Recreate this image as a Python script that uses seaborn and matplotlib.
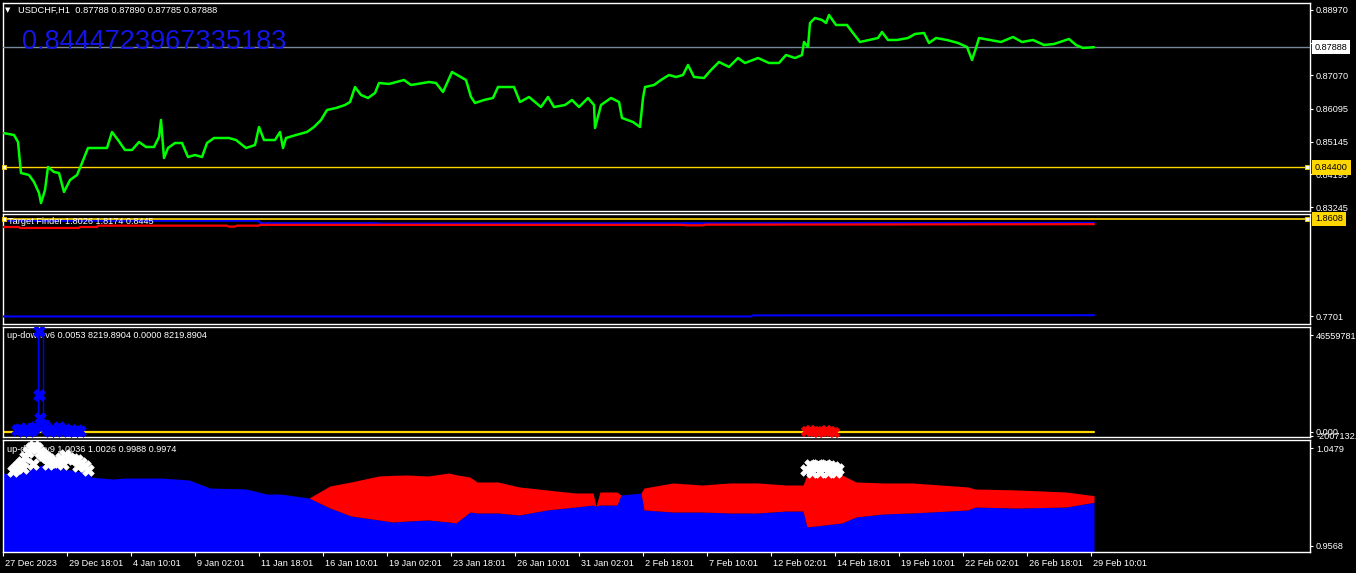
import matplotlib
matplotlib.use("Agg")
import matplotlib.pyplot as plt
import matplotlib.transforms as mtransforms
import seaborn as sns

# ---- price window (USDCHF H1, x = bar index, one bar per hour) ----
price_bars = [0, 11, 15, 17, 18, 26, 31, 36, 38, 42,
              45, 51, 56, 61, 67, 74, 79, 85, 90, 104,
              109, 115, 122, 129, 136, 143, 151, 156, 158, 161,
              165, 172, 179, 185, 192, 199, 204, 211, 226, 233,
              243, 252, 256, 261, 272, 277, 280, 283, 293, 304,
              311, 318, 324, 333, 342, 347, 352, 358, 365, 372,
              376, 386, 401, 408, 426, 433, 440, 449, 463, 468,
              472, 481, 490, 495, 511, 517, 526, 538, 545, 551,
              562, 569, 576, 585, 591, 592, 598, 608, 616, 619,
              630, 637, 640, 642, 651, 658, 666, 673, 680, 685,
              691, 701, 708, 716, 726, 735, 742, 755, 766, 776,
              783, 792, 799, 801, 805, 807, 812, 819, 823, 826,
              833, 844, 850, 857, 866, 875, 879, 885, 894, 905,
              912, 921, 926, 933, 944, 955, 964, 969, 973, 976,
              987, 998, 1010, 1019, 1030, 1041, 1051, 1066, 1073, 1080,
              1091]
price_vals = [0.85396, 0.85337, 0.85134, 0.84553, 0.84233, 0.84175, 0.83972, 0.83652, 0.83361, 0.83739,
              0.84408, 0.84262, 0.84233, 0.83681, 0.84030, 0.84175, 0.84524, 0.84960, 0.84960, 0.84960,
              0.85425, 0.85192, 0.84902, 0.84902, 0.85134, 0.84989, 0.84989, 0.85279, 0.85773, 0.84669,
              0.84960, 0.85105, 0.85105, 0.84698, 0.84756, 0.84698, 0.85105, 0.85250, 0.85250, 0.85192,
              0.84960, 0.85047, 0.85570, 0.85192, 0.85192, 0.85425, 0.84960, 0.85250, 0.85337, 0.85425,
              0.85570, 0.85773, 0.86064, 0.86122, 0.86209, 0.86296, 0.86732, 0.86500, 0.86413, 0.86558,
              0.86849, 0.86820, 0.86936, 0.86790, 0.86878, 0.86849, 0.86587, 0.87168, 0.86936, 0.86442,
              0.86267, 0.86355, 0.86413, 0.86732, 0.86732, 0.86296, 0.86442, 0.86151, 0.86442, 0.86151,
              0.86209, 0.86355, 0.86151, 0.86413, 0.86209, 0.85541, 0.86209, 0.86413, 0.86296, 0.85832,
              0.85715, 0.85570, 0.86413, 0.86732, 0.86790, 0.86936, 0.87081, 0.87023, 0.87081, 0.87372,
              0.87023, 0.86994, 0.87226, 0.87459, 0.87314, 0.87575, 0.87430, 0.87575, 0.87430, 0.87430,
              0.87662, 0.87575, 0.87662, 0.88040, 0.87895, 0.88592, 0.88738, 0.88679, 0.88592, 0.88825,
              0.88534, 0.88534, 0.88302, 0.88040, 0.88098, 0.88156, 0.88331, 0.88098, 0.88098, 0.88156,
              0.88273, 0.88302, 0.88011, 0.88156, 0.88098, 0.88011, 0.87895, 0.87517, 0.87866, 0.88156,
              0.88098, 0.88040, 0.88185, 0.88040, 0.88098, 0.87953, 0.87982, 0.88127, 0.87953, 0.87866,
              0.87888]
price_ticks = [0.88970, 0.88020, 0.87070, 0.86095, 0.85145, 0.84195, 0.83245]
bid_price = 0.87888
level_price = 0.84400
header_main = "USDCHF,H1  0.87788 0.87890 0.87785 0.87888"
big_value = "0.8444723967335183"

# ---- Target Finder window ----
tf_red_bars = [0, 16, 17, 76, 77, 94, 95, 224, 226, 232, 234, 256, 257, 680, 683, 700, 703, 1091]
tf_red_vals = [1.771, 1.771, 1.760, 1.760, 1.771, 1.771, 1.786, 1.786, 1.775, 1.775, 1.786, 1.786,
               1.795, 1.795, 1.790, 1.790, 1.797, 1.8026]
tf_blue_bars = [0, 255, 258, 375, 378, 1091]
tf_blue_vals = [1.841, 1.841, 1.813, 1.813, 1.808, 1.8174]
tf_low_bars = [0, 748, 750, 1091]
tf_low_vals = [0.765, 0.765, 0.777, 0.779]
tf_level = 1.8608
tf_min = 0.7701
header_tf = "Target Finder 1.8026 1.8174 0.8445"

# ---- up-down-v6 window ----
ud6_blue_bars = [14, 17, 20, 23, 26, 29, 32, 36, 36, 37, 41, 44, 47, 50, 53, 56, 59, 62, 65, 68, 71, 74, 77]
ud6_blue_vals = [0.6e6, 1.2e6, 0.2e6, 1.6e6, 0.4e6, 1.0e6, 2.4e6, 48.5e6, 17.7e6, 6.6e6, 3.2e6, 1.4e6,
                 0.3e6, 1.1e6, 0.2e6, 2.2e6, 0.6e6, 1.3e6, 0.4e6, 1.0e6, 0.2e6, 0.8e6, 0.3e6]
ud6_spike_bars = [35, 40]
ud6_spike_tops = [48.5e6, 48.5e6]
ud6_red_bars = [803, 807, 811, 815, 819, 823, 827, 831]
ud6_red_vals = [0.2e6, 0.9e6, 0.4e6, -0.3e6, 0.5e6, 1.0e6, 0.3e6, 0.0]
ud6_level = 0.0
ud6_ticks = [46559781.4, 0.0, -2007132.4]
ud6_tick_labels = ["46559781.4", "0.000", "-2007132.4"]
header_ud6 = "up-down-v6 0.0053 8219.8904 0.0000 8219.8904"

# ---- up-down-v9 window ----
ud9_bars = [0, 11, 39, 85, 88, 109, 123, 158, 186, 207,
            243, 264, 278, 306, 327, 348, 376, 390, 404, 425,
            446, 453, 467, 474, 495, 516, 544, 572, 590, 593,
            597, 614, 618, 638, 641, 670, 699, 727, 755, 783,
            800, 804, 839, 853, 881, 909, 965, 972, 1014, 1063,
            1091]
ud9_upper = [1.0247, 1.0228, 1.0321, 1.0247, 1.0209, 1.0191, 1.0200, 1.0200, 1.0182, 1.0107,
             1.0098, 1.0051, 1.0051, 1.0014, 1.0126, 1.0163, 1.0219, 1.0225, 1.0228, 1.0219,
             1.0247, 1.0230, 1.0209, 1.0163, 1.0163, 1.0117, 1.0089, 1.0061, 1.0061, 0.9940,
             1.0070, 1.0070, 1.0042, 1.0060, 1.0107, 1.0154, 1.0135, 1.0154, 1.0154, 1.0135,
             1.0135, 1.0228, 1.0228, 1.0163, 1.0154, 1.0154, 1.0117, 1.0098, 1.0089, 1.0070,
             1.0036]
ud9_lower = [1.0247, 1.0228, 1.0321, 1.0247, 1.0209, 1.0191, 1.0200, 1.0200, 1.0182, 1.0107,
             1.0098, 1.0051, 1.0051, 1.0014, 0.9921, 0.9847, 0.9810, 0.9791, 0.9800, 0.9810,
             0.9791, 0.9782, 0.9884, 0.9875, 0.9875, 0.9856, 0.9903, 0.9930, 0.9949, 0.9940,
             0.9949, 0.9949, 1.0042, 1.0060, 0.9903, 0.9884, 0.9884, 0.9875, 0.9875, 0.9893,
             0.9893, 0.9745, 0.9782, 0.9838, 0.9866, 0.9875, 0.9903, 0.9930, 0.9921, 0.9930,
             0.9974]
ud9_white_bars = [10, 13, 16, 19, 22, 25, 28, 31, 34, 37, 40, 43, 46, 50, 54, 58, 62, 66, 70, 74, 78, 82, 85,
                  20, 30, 45, 60, 75,
                  803, 807, 811, 815, 819, 823, 827, 831, 835, 809, 817, 825, 833]
ud9_white_vals = [1.0265, 1.0290, 1.0320, 1.0350, 1.0400, 1.0440, 1.0475, 1.0500, 1.0480, 1.0440, 1.0410,
                  1.0400, 1.0380, 1.0350, 1.0345, 1.0390, 1.0410, 1.0390, 1.0375, 1.0365, 1.0340, 1.0310, 1.0270,
                  1.0290, 1.0330, 1.0330, 1.0330, 1.0310,
                  1.0275, 1.0320, 1.0310, 1.0320, 1.0315, 1.0320, 1.0315, 1.0305, 1.0280, 1.0260, 1.0255,
                  1.0260, 1.0255]
ud9_ticks = [1.0479, 0.9568]
header_ud9 = "up-down-v9 1.0036 1.0026 0.9988 0.9974"

time_ticks = list(range(0, 1089, 64))
time_labels = ["27 Dec 2023", "29 Dec 18:01", "4 Jan 10:01", "9 Jan 02:01", "11 Jan 18:01",
               "16 Jan 10:01", "19 Jan 02:01", "23 Jan 18:01", "26 Jan 10:01", "31 Jan 02:01",
               "2 Feb 18:01", "7 Feb 10:01", "12 Feb 02:01", "14 Feb 18:01", "19 Feb 10:01",
               "22 Feb 02:01", "26 Feb 18:01", "29 Feb 10:01"]

GREEN = "#00FF00"
BLUE = "#0000FF"
RED = "#FF0000"
GOLD = "#FFD700"
FS = 6.6

sns.set_theme(style="dark", rc={"axes.facecolor": "black", "figure.facecolor": "black",
                                "text.color": "white", "xtick.color": "white", "ytick.color": "white",
                                "axes.edgecolor": "white"})
plt.rcParams["font.family"] = ["Liberation Sans", "DejaVu Sans"]

W, H = 1356, 573
fig = plt.figure(figsize=(W / 100, H / 100), dpi=100)


def panel(top, bottom):
    ax = fig.add_axes([3 / W, 1 - bottom / H, 1307 / W, (bottom - top) / H])
    ax.set_facecolor("black")
    for s in ax.spines.values():
        s.set_color("white")
        s.set_linewidth(1)
    ax.set_xlim(0, 1307)
    ax.yaxis.tick_right()
    ax.tick_params(axis="y", which="both", right=True, left=False, labelright=True, labelleft=False,
                   length=2.2, width=0.8, pad=2.2, labelsize=FS, colors="white")
    ax.tick_params(axis="x", bottom=False, labelbottom=False)
    ax.grid(False)
    return ax


def header(ax, x, y, s, z):
    ax.text(x / W, 1 - y / H, s, transform=fig.transFigure, fontsize=FS, color="white",
            va="center", ha="left", zorder=z)


def price_box(ax, val, text, fc):
    ax.annotate(text, xy=(1, val), xycoords=mtransforms.blended_transform_factory(ax.transAxes, ax.transData),
                xytext=(5, 0), textcoords="offset pixels", ha="left", va="center", fontsize=FS,
                color="black", zorder=10, annotation_clip=False,
                bbox=dict(boxstyle="square,pad=0.3", fc=fc, ec="none"))


def end_squares(ax, val):
    x0, x1 = ax.get_xlim()
    ax.plot([x0 + 1, x1 - 3], [val, val], ls="none", marker="s", ms=3.2, mfc="white", mec=GOLD,
            mew=0.6, zorder=6, clip_on=False)


# price window
ax1 = panel(3, 211)
ax1.set_ylim(0.83129, 0.89173)
sns.lineplot(x=price_bars, y=price_vals, ax=ax1, color=GREEN, lw=1.8, estimator=None, zorder=4)
ax1.axhline(bid_price, color="#778899", lw=1, zorder=3)
ax1.axhline(level_price, color=GOLD, lw=1, zorder=3)
end_squares(ax1, level_price)
ax1.set_yticks(price_ticks)
ax1.set_yticklabels(["%.5f" % t for t in price_ticks])
price_box(ax1, bid_price, "%.5f" % bid_price, "white")
price_box(ax1, level_price, "%.5f" % level_price, GOLD)
ax1.set_xlabel("")
ax1.set_ylabel("")
fig.text(5 / W, 1 - 10 / H, "\u25BC", fontsize=5, color="white", va="center",
         family=["DejaVu Sans"])
fig.text(18 / W, 1 - 10 / H, header_main, fontsize=6.7, color="white", va="center")
fig.text(22 / W, 1 - 49 / H, big_value, fontsize=19.5, color="#1414E6", va="baseline",
         family=["Liberation Sans", "DejaVu Sans"], zorder=20)

# Target Finder window
ax2 = panel(214, 324)
ax2.set_ylim(0.6802, 1.9170)
sns.lineplot(x=tf_low_bars, y=tf_low_vals, ax=ax2, color=BLUE, lw=1.5, estimator=None, zorder=3)
sns.lineplot(x=tf_blue_bars, y=tf_blue_vals, ax=ax2, color=BLUE, lw=1.5, estimator=None, zorder=3)
sns.lineplot(x=tf_red_bars, y=tf_red_vals, ax=ax2, color=RED, lw=1.6, estimator=None, zorder=4)
ax2.axhline(tf_level, color=GOLD, lw=1.2, zorder=3)
end_squares(ax2, tf_level)
ax2.set_yticks([tf_min])
ax2.set_yticklabels(["%.4f" % tf_min])
price_box(ax2, tf_level, "%.4f" % tf_level, GOLD)
ax2.set_xlabel("")
ax2.set_ylabel("")
header(ax2, 8, 221, header_tf, 8)

# up-down-v6 window
ax3 = panel(327, 437)
ax3.set_ylim(-2551881, 50411677)
sns.lineplot(x=[0, 1091], y=[ud6_level, ud6_level], ax=ax3, color=GOLD, lw=1.6, estimator=None, zorder=2)
ax3.vlines(ud6_spike_bars, 2.0e6, ud6_spike_tops, color=BLUE, lw=1, zorder=3)
sns.scatterplot(x=ud6_blue_bars, y=ud6_blue_vals, ax=ax3, marker="X", s=70, color=BLUE,
                edgecolor=BLUE, linewidth=0.5, zorder=4)
sns.scatterplot(x=ud6_red_bars, y=ud6_red_vals, ax=ax3, marker="X", s=55, color=RED,
                edgecolor=RED, linewidth=0.5, zorder=4)
ax3.set_yticks(ud6_ticks)
ax3.set_yticklabels(ud6_tick_labels)
ax3.set_xlabel("")
ax3.set_ylabel("")
header(ax3, 7, 335, header_ud6, 1.5)

# up-down-v9 window
ax4 = panel(440, 552)
y0 = 0.95122
ax4.set_ylim(y0, 1.05534)
ax4.fill_between(ud9_bars, y0, ud9_lower, color=BLUE, lw=0, zorder=2)
ax4.fill_between(ud9_bars, ud9_lower, ud9_upper, color=RED, lw=0, zorder=2)
sns.scatterplot(x=ud9_white_bars, y=ud9_white_vals, ax=ax4, marker="X", s=70, color="white",
                edgecolor="white", linewidth=0.5, zorder=5)
ax4.set_yticks(ud9_ticks)
ax4.set_yticklabels(["%.4f" % t for t in ud9_ticks])
header(ax4, 7, 449, header_ud9, 1.5)
ax4.set_xticks(time_ticks)
ax4.set_xticklabels(time_labels)
ax4.tick_params(axis="x", bottom=True, labelbottom=True, length=2.9, width=0.8, pad=2,
                labelsize=FS, colors="white")
shift = mtransforms.ScaledTranslation(2 / 100, 0, fig.dpi_scale_trans)
for lab in ax4.get_xticklabels():
    lab.set_horizontalalignment("left")
    lab.set_transform(lab.get_transform() + shift)
ax4.set_xlabel("")
ax4.set_ylabel("")

plt.savefig("out.png", dpi=100, facecolor="black")
